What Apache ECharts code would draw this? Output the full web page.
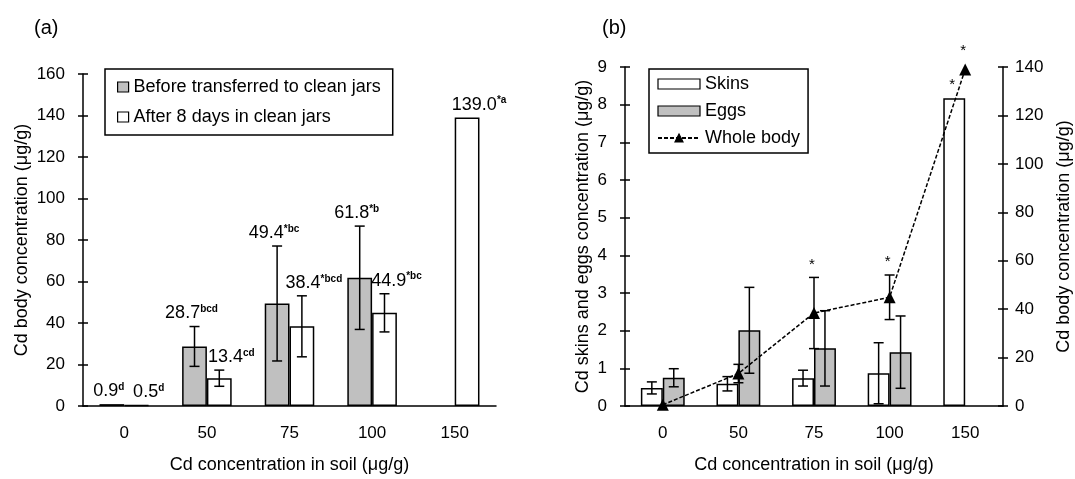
<!DOCTYPE html>
<html>
<head>
<meta charset="utf-8">
<script src="https://cdn.jsdelivr.net/npm/echarts@6/dist/echarts.min.js"></script>
<style>
  html, body { margin: 0; padding: 0; background: #fff; }
  #chart { width: 1075px; height: 479px; }
</style>
</head>
<body>
<div id="chart"></div>
<script>
  // soil Cd levels (ug/g)
  const soilCd = ['0', '50', '75', '100', '150'];

  // (a) whole body Cd, before / after 8 days in clean jars
  const bodyBefore = [0.9, 28.7, 49.4, 61.8, null];
  const bodyBeforeErr = [0, 9.6, 27.7, 24.9, 0];
  const bodyBeforeSig = ['d', 'bcd', '*bc', '*b', ''];
  const bodyAfter = [0.5, 13.4, 38.4, 44.9, 139.0];
  const bodyAfterErr = [0, 3.9, 14.7, 9.2, 0];
  const bodyAfterSig = ['d', 'cd', '*bcd', '*bc', '*a'];

  // (b) skins, eggs (left axis) and whole body (right axis)
  const skins = [0.48, 0.59, 0.74, 0.87, 8.17];
  const skinsErr = [0.16, 0.19, 0.21, 0.81, 0];
  const skinsMark = ['', '', '', '', '*'];
  const eggs = [0.75, 2.01, 1.53, 1.43, null];
  const eggsErr = [0.24, 1.14, 1.0, 0.96, 0];
  const wholeBody = [0.5, 13.4, 38.4, 44.9, 139.0];
  const wholeBodyErr = [0, 3.8, 14.7, 9.2, 0];
  const wholeBodyMark = ['', '', '*', '*', '*'];

  const FONT = 'Liberation Sans, Arial, sans-serif';
  const GRAY = '#c0c0c0';

  const chart = echarts.init(document.getElementById('chart'));

  // error bar + label drawn over one bar slot (slot -1 left, +1 right, 0 centre)
  function errRender(values, errs, slot, gap, opts) {
    return function (params, api) {
      const i = params.dataIndex;
      const v = values[i];
      if (v == null) return null;
      const band = api.size([1, 0])[0];
      const cx = api.coord([i, v])[0] + slot * band * (1 - gap) / 4;
      const e = errs[i] || 0;
      const yv = api.coord([i, v])[1];
      const yTop = api.coord([i, v + e])[1];
      const yBot = api.coord([i, v - e])[1];
      const st = { stroke: '#000', lineWidth: 1.5 };
      const kids = [];
      if (e > 0) {
        kids.push({ type: 'line', shape: { x1: cx, y1: yTop, x2: cx, y2: yBot }, style: st });
        kids.push({ type: 'line', shape: { x1: cx - 5, y1: yTop, x2: cx + 5, y2: yTop }, style: st });
        kids.push({ type: 'line', shape: { x1: cx - 5, y1: yBot, x2: cx + 5, y2: yBot }, style: st });
      }
      let top = Math.min(yTop, yv - (opts.pad || 0));
      if (opts.sig) {
        kids.push({
          type: 'text',
          style: {
            x: cx + opts.dx, y: top - 4,
            text: v.toFixed(1) + (opts.sig[i] ? '{s|' + opts.sig[i] + '}' : ''),
            fontSize: 18, fontFamily: FONT, fill: '#000',
            align: 'center', verticalAlign: 'bottom',
            rich: { s: { fontSize: 10, fontWeight: 'bold', fontFamily: FONT, fill: '#000', verticalAlign: 'top' } }
          }
        });
      }
      if (opts.mark && opts.mark[i]) {
        kids.push({
          type: 'text',
          style: {
            x: cx - 2, y: top - 13, text: opts.mark[i],
            fontSize: 15, fontFamily: FONT, fill: '#000',
            align: 'center', verticalAlign: 'middle'
          }
        });
      }
      return { type: 'group', children: kids };
    };
  }

  function catAxis(grid, inside) {
    return {
      type: 'category', gridIndex: grid, data: soilCd, position: 'bottom',
      axisLine: { show: !inside, lineStyle: { color: '#000', width: 1.5 } },
      axisTick: { inside: inside, length: 5, lineStyle: { color: '#000', width: 1.5 } },
      axisLabel: { show: !inside, color: '#000', fontSize: 17, fontFamily: FONT, margin: 19 },
      splitLine: { show: false },
      name: inside ? '' : 'Cd concentration in soil (μg/g)',
      nameLocation: 'middle', nameGap: 50,
      nameTextStyle: { color: '#000', fontSize: 18, fontFamily: FONT }
    };
  }

  function valAxis(grid, pos, max, step, inside, name, gap, margin) {
    return {
      type: 'value', gridIndex: grid, position: pos, min: 0, max: max, interval: step,
      axisLine: { show: !inside, lineStyle: { color: '#000', width: 1.5 } },
      axisTick: { show: true, inside: inside, length: 5, lineStyle: { color: '#000', width: 1.5 } },
      axisLabel: { show: !inside, color: '#000', fontSize: 17, fontFamily: FONT, margin: margin },
      splitLine: { show: false },
      name: inside ? '' : name,
      nameLocation: 'middle', nameGap: gap,
      nameTextStyle: { color: '#000', fontSize: 18, fontFamily: FONT }
    };
  }

  const barBorder = { borderColor: '#000', borderWidth: 1.5 };

  const option = {
    animation: false,
    backgroundColor: '#fff',
    textStyle: { fontFamily: FONT, color: '#000' },
    graphic: [
      { type: 'text', left: 34, top: 18, style: { text: '(a)', fontSize: 20, fontFamily: FONT, fill: '#000' } },
      { type: 'text', left: 602, top: 18, style: { text: '(b)', fontSize: 20, fontFamily: FONT, fill: '#000' } }
    ],
    grid: [
      { left: 83, right: 579, top: 74, bottom: 70 },
      { left: 625, right: 72, top: 67, bottom: 68 }
    ],
    legend: [
      {
        data: ['Before transferred to clean jars', 'After 8 days in clean jars'],
        orient: 'vertical', left: 105, top: 69, icon: 'rect',
        itemWidth: 11, itemHeight: 10, itemGap: 12, padding: [9, 12],
        borderColor: '#000', borderWidth: 1.5,
        itemStyle: { borderColor: '#000', borderWidth: 1.2 },
        textStyle: { color: '#000', fontSize: 18, fontFamily: FONT }
      },
      {
        data: [{ name: 'Skins', icon: 'rect' }, { name: 'Eggs', icon: 'rect' }, 'Whole body'],
        orient: 'vertical', left: 649, top: 69,
        itemWidth: 42, itemHeight: 10, itemGap: 9, padding: [6, 8],
        borderColor: '#000', borderWidth: 1.5,
        itemStyle: { borderColor: '#000', borderWidth: 1.2 },
        textStyle: { color: '#000', fontSize: 18, fontFamily: FONT }
      }
    ],
    xAxis: [catAxis(0, false), catAxis(0, true), catAxis(1, false), catAxis(1, true)],
    yAxis: [
      valAxis(0, 'left', 160, 20, false, 'Cd body concentration (μg/g)', 52, 18),
      valAxis(0, 'left', 160, 20, true),
      valAxis(1, 'left', 9, 1, false, 'Cd skins and eggs concentration (μg/g)', 33, 18),
      valAxis(1, 'left', 9, 1, true),
      valAxis(1, 'right', 140, 20, false, 'Cd body concentration (μg/g)', 52, 12),
      valAxis(1, 'right', 140, 20, true)
    ],
    series: [
      {
        name: 'Before transferred to clean jars', type: 'bar', xAxisIndex: 0, yAxisIndex: 0,
        data: bodyBefore, barGap: '0%', barCategoryGap: '40%',
        itemStyle: Object.assign({ color: GRAY }, barBorder)
      },
      {
        name: 'After 8 days in clean jars', type: 'bar', xAxisIndex: 0, yAxisIndex: 0,
        data: bodyAfter, barGap: '0%', barCategoryGap: '40%',
        itemStyle: Object.assign({ color: '#fff' }, barBorder)
      },
      {
        type: 'custom', xAxisIndex: 0, yAxisIndex: 0, z: 6, clip: false,
        data: bodyBefore.map((v, i) => [i, v]),
        renderItem: errRender(bodyBefore, bodyBeforeErr, -1, 0.4, { sig: bodyBeforeSig, dx: -3 })
      },
      {
        type: 'custom', xAxisIndex: 0, yAxisIndex: 0, z: 6, clip: false,
        data: bodyAfter.map((v, i) => [i, v]),
        renderItem: errRender(bodyAfter, bodyAfterErr, 1, 0.4, { sig: bodyAfterSig, dx: 12 })
      },
      {
        name: 'Skins', type: 'bar', xAxisIndex: 2, yAxisIndex: 2,
        data: skins, barGap: '0%', barCategoryGap: '42%',
        itemStyle: Object.assign({ color: '#fff' }, barBorder)
      },
      {
        name: 'Eggs', type: 'bar', xAxisIndex: 2, yAxisIndex: 2,
        data: eggs, barGap: '0%', barCategoryGap: '42%',
        itemStyle: Object.assign({ color: GRAY }, barBorder)
      },
      {
        name: 'Whole body', type: 'line', xAxisIndex: 2, yAxisIndex: 4, z: 5,
        data: wholeBody, symbol: 'triangle', symbolSize: 12,
        itemStyle: { color: '#000' },
        lineStyle: { color: '#000', width: 1.5, type: [4, 2] }
      },
      {
        type: 'custom', xAxisIndex: 2, yAxisIndex: 2, z: 6, clip: false,
        data: skins.map((v, i) => [i, v]),
        renderItem: errRender(skins, skinsErr, -1, 0.42, { mark: skinsMark })
      },
      {
        type: 'custom', xAxisIndex: 2, yAxisIndex: 2, z: 6, clip: false,
        data: eggs.map((v, i) => [i, v]),
        renderItem: errRender(eggs, eggsErr, 1, 0.42, {})
      },
      {
        type: 'custom', xAxisIndex: 2, yAxisIndex: 4, z: 6, clip: false,
        data: wholeBody.map((v, i) => [i, v]),
        renderItem: errRender(wholeBody, wholeBodyErr, 0, 0.42, { mark: wholeBodyMark, pad: 6 })
      }
    ]
  };

  chart.setOption(option);
</script>
</body>
</html>
